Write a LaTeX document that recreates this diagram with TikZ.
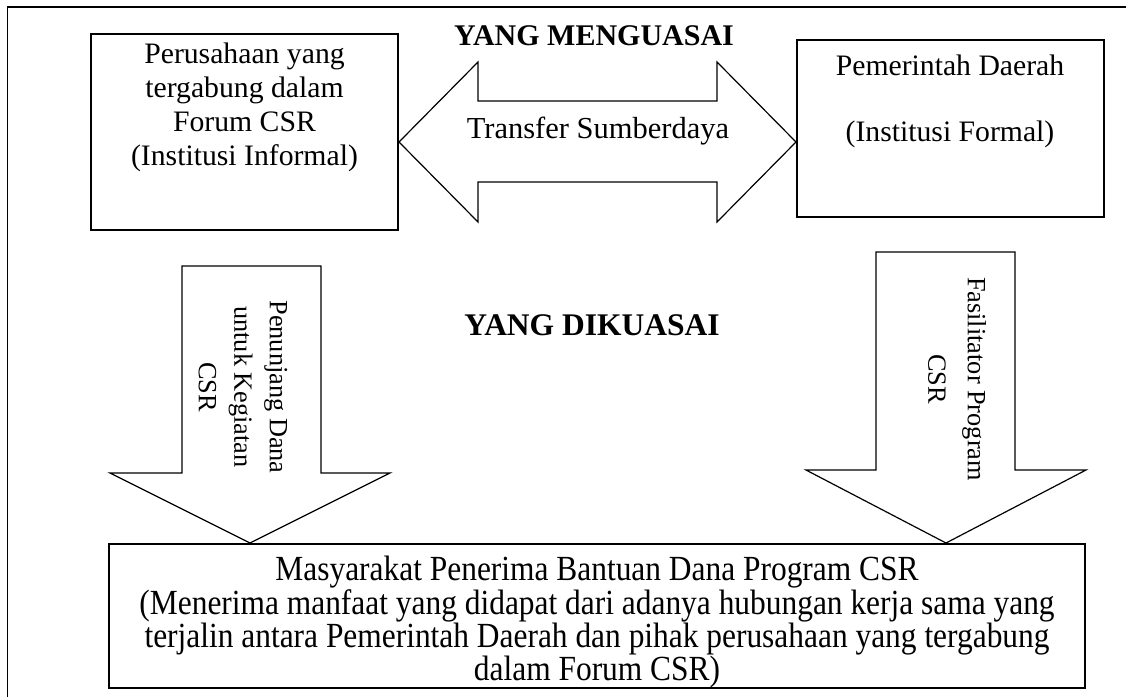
\documentclass[tikz,border=0pt]{standalone}
\usepackage{fontspec}
\setmainfont{Liberation Serif}
\newfontfamily\condserif[FakeStretch=0.89]{Liberation Serif}
\begin{document}
\begin{tikzpicture}[x=1pt,y=-1pt,
  frame/.style={draw, line width=1.3pt},
  box/.style={draw, line width=1.3pt, inner sep=0pt},
  blockarrow/.style={draw, line width=1.2pt, line join=miter},
  txt/.style={inner sep=0pt, align=center, font=\fontsize{29.7}{34}\selectfont},
  btxt/.style={inner sep=0pt, align=center, font=\condserif\fontsize{35.3}{31.8}\selectfont},
  vtxt/.style={inner sep=0pt, align=center, rotate=-90},
  head/.style={inner sep=0pt, font=\bfseries\fontsize{30}{36}\selectfont}]
\useasboundingbox (0,0) rectangle (1126,697);
% outer frame (cut by the page on the right and bottom)
\draw[frame] (7.5,697) -- (7.5,7) -- (1126,7);

% boxes
\node[box, minimum width=307pt, minimum height=196pt] (pl) at (244.5,132) {};
\node[box, minimum width=307pt, minimum height=177pt] (pr) at (950.5,128.5) {};
\node[box, minimum width=976pt, minimum height=144pt] (mb) at (597,616) {};

% box texts
\node[txt, anchor=north] (plt) at (244.5,43) {Perusahaan yang\\tergabung dalam\\Forum CSR\\(Institusi Informal)};
\node[txt, anchor=north] (prt) at (950,55) {Pemerintah Daerah\\[32pt](Institusi Formal)};
\node[btxt, anchor=north] (mbt) at (597,556) {Masyarakat Penerima Bantuan Dana Program CSR\\(Menerima manfaat yang didapat dari adanya hubungan kerja sama yang\\terjalin antara Pemerintah Daerah dan pihak perusahaan yang tergabung\\dalam Forum CSR)};

% headings
\node[head, anchor=base] (hm) at (594,45) {YANG MENGUASAI};
\node[head, font=\bfseries\fontsize{31.5}{36}\selectfont, anchor=base] (hd) at (592,335) {YANG DIKUASAI};

% double block arrow between the two institutions
\draw[blockarrow] (399,142) -- (478,62) -- (478,101) -- (717,101) -- (717,62) -- (796,142)
  -- (717,222) -- (717,182) -- (478,182) -- (478,222) -- cycle;
\node[txt, font=\fontsize{30.5}{34}\selectfont, anchor=base] (tr) at (598,138) {Transfer Sumberdaya};

% left down block arrow
\draw[blockarrow] (182,266) -- (321,266) -- (321,473) -- (390,473) -- (250,543)
  -- (110,473) -- (182,473) -- cycle;
\node[vtxt, font=\fontsize{26.3}{35.5}\selectfont] (lat) at (243,387) {Penunjang Dana\\untuk Kegiatan\\CSR};

% right down block arrow
\draw[blockarrow] (876,252) -- (1015,252) -- (1015,470) -- (1086,470) -- (946,543)
  -- (806,470) -- (876,470) -- cycle;
\node[vtxt, font=\fontsize{26.3}{39.5}\selectfont] (rat) at (957,379) {Fasilitator Program\\CSR};
\end{tikzpicture}
\end{document}
